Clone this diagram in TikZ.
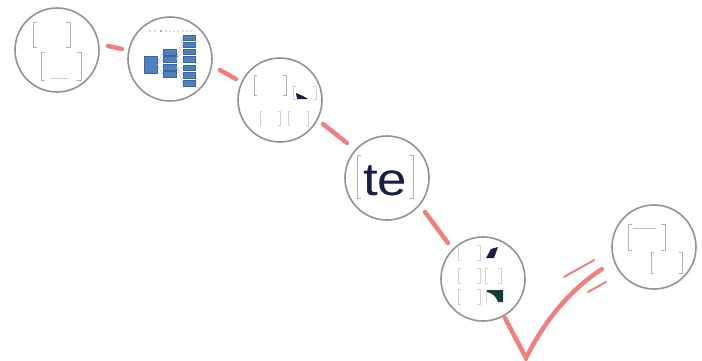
\documentclass[tikz,border=0pt]{standalone}
\usepackage{fontspec}
\setsansfont{Liberation Sans}
\definecolor{salmon}{RGB}{240,128,128}
\definecolor{boxblue}{RGB}{79,129,189}
\definecolor{boxedge}{RGB}{60,100,160}
\definecolor{navy}{RGB}{25,30,70}
\definecolor{tealdark}{RGB}{20,60,60}
\begin{document}
\begin{tikzpicture}[x=1pt,y=-1pt,
  circ/.style={circle,draw=gray!85,line width=1.6pt,minimum size=84pt,inner sep=0pt,fill=white},
  link/.style={draw=salmon,line width=4.5pt,line cap=round},
  thin link/.style={draw=salmon,line width=2pt,line cap=round},
  brk/.style={draw=gray!60,line width=0.8pt},
  fbrk/.style={draw=gray!35,line width=0.7pt},
  bbox/.style={fill=boxblue,draw=boxedge,line width=0.3pt},
  tline/.style={draw=gray!70,line width=0.3pt}]
\useasboundingbox (0,0) rectangle (702,360);
\fill[white] (0,0) rectangle (702,360);
% connectors
\coordinate (a1) at (108,46); \coordinate (a2) at (122,49);
\coordinate (b1) at (220,70); \coordinate (b2) at (236,79);
\coordinate (d1) at (323,124); \coordinate (d2) at (347,143);
\coordinate (e1) at (425,212); \coordinate (e2) at (448,243);
\coordinate (v1) at (505,318); \coordinate (v2) at (526,358); \coordinate (v3) at (602,269);
\coordinate (s1) at (564,277); \coordinate (s2) at (594,260);
\coordinate (t1) at (588,292); \coordinate (t2) at (606,282);
\draw[link] (a1) -- (a2);
\draw[link] (b1) -- (b2);
\draw[link] (d1) -- (d2);
\draw[link] (e1) -- (e2);
\draw[link] (v1) -- (v2) .. controls (545,320) and (570,290) .. (v3);
\draw[thin link] (s1) -- (s2);
\draw[thin link] (t1) -- (t2);
% circles
\node[circ] (c1) at (57,50) {};
\node[circ] (c2) at (170,59) {};
\node[circ] (c3) at (280,100) {};
\node[circ] (c4) at (387,178) {};
\node[circ] (c5) at (483,279) {};
\node[circ] (c6) at (654,247) {};
% circle 1 content
\draw[brk] (37,22) -- (33,22) -- (33,47) -- (37,47);
\draw[brk] (66,22) -- (70,22) -- (70,47) -- (66,47);
\draw[brk] (45,52) -- (41,52) -- (41,80) -- (45,80);
\draw[brk] (77,52) -- (81,52) -- (81,80) -- (77,80);
\draw[gray!40,line width=0.4pt] (50,78) -- (68,78);
% circle 2 content
\foreach \x in {150,155,161,166,170,174,178,183,187,191} \fill[gray!80!black] (\x,31) circle (0.6);
\fill[boxblue] (161,31) circle (0.8);
\node[bbox,minimum width=13pt,minimum height=17pt,inner sep=0pt] (m0) at (150.5,65) {};
\foreach \y/\n in {52/m1,59.5/m2,67/m3,74/m4}
  \node[bbox,minimum width=13pt,minimum height=6pt,inner sep=0pt] (\n) at (169.5,\y) {};
\foreach \y/\n in {37.5/r1,44.5/r2,51.5/r3,59/r4,67.5/r5,75/r6,83/r7}
  \node[bbox,minimum width=12pt,minimum height=5.5pt,inner sep=0pt] (\n) at (189,\y) {};
\foreach \n in {m1,m2,m3,m4} \draw[tline] (m0.east) -- (\n.west);
\foreach \n in {r1,r2,r3,r4} \draw[tline] (m2.east) -- (\n.west);
\foreach \n in {r5,r6,r7} \draw[tline] (m3.east) -- (\n.west);
% circle 3 content
\draw[brk] (257,75) -- (254,75) -- (254,95) -- (257,95);
\draw[brk] (283,75) -- (286,75) -- (286,95) -- (283,95);
\draw[fbrk] (296,86) -- (293,86) -- (293,99) -- (296,99);
\draw[fbrk] (313,86) -- (316,86) -- (316,99) -- (313,99);
\fill[navy] (296,93) -- (303,96) -- (308,99) -- (297,99) -- cycle;
\draw[fbrk] (262,111) -- (260,111) -- (260,125) -- (262,125);
\draw[fbrk] (278,111) -- (280,111) -- (280,125) -- (278,125);
\draw[fbrk] (290,111) -- (288,111) -- (288,125) -- (290,125);
\draw[fbrk] (306,111) -- (308,111) -- (308,125) -- (306,125);
% circle 4 content
\draw[brk] (361,155) -- (357,155) -- (357,198) -- (361,198);
\draw[brk] (409,155) -- (413,155) -- (413,198) -- (409,198);
\node[font=\sffamily\fontsize{46}{46}\selectfont,text=navy,inner sep=0pt,xscale=1.15,anchor=base] (te) at (385,195) {t\kern-1pt e};
% circle 5 content
\foreach \y in {245,268,289} {
  \draw[fbrk] (461,\y) -- (458,\y) -- (458,\y+15) -- (461,\y+15);
  \draw[fbrk] (477,\y) -- (480,\y) -- (480,\y+15) -- (477,\y+15);
}
\draw[fbrk] (488,268) -- (485,268) -- (485,283) -- (488,283);
\draw[fbrk] (498,268) -- (501,268) -- (501,283) -- (498,283);
\fill[navy] (486,258) -- (491,249) -- (498,247) -- (494,258) -- cycle;
\fill[tealdark] (487,290) -- (503,290) -- (503,302) -- (498,302) .. controls (496,296) and (492,293) .. (487,292) -- cycle;
\draw[fbrk] (486,290) -- (486,302);
% circle 6 content
\draw[brk] (632,224) -- (628,224) -- (628,250) -- (632,250);
\draw[brk] (661,224) -- (665,224) -- (665,250) -- (661,250);
\draw[gray!50,line width=0.4pt] (633,228) -- (656,228);
\draw[brk] (654,252) -- (651,252) -- (651,273) -- (654,273);
\draw[brk] (679,252) -- (682,252) -- (682,273) -- (679,273);
\end{tikzpicture}
\end{document}
